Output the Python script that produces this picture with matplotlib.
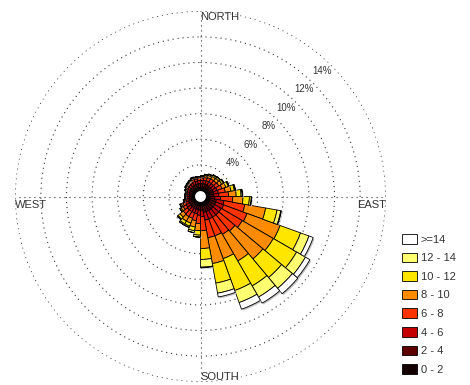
"""Wind rose: frequency of wind direction by speed class."""

import numpy as np
from matplotlib import patheffects, pyplot
from matplotlib.patches import Patch

# direction bin centres (degrees, clockwise from north)
directions = [5, 15, 25, 35, 45, 55, 65, 75, 85, 95, 105, 115,
              125, 135, 145, 155, 165, 175, 185, 195, 205, 215, 225, 235,
              245, 255, 265, 275, 285, 295, 305, 315, 325, 335, 345, 355]

speed_labels = ["0 - 2", "2 - 4", "4 - 6", "6 - 8", "8 - 10", "10 - 12", "12 - 14", ">=14"]
speed_colors = ["#140000", "#5c0000", "#c40000", "#ff3300", "#ff8c00", "#ffe600", "#ffff70", "#ffffff"]

# percentage of observations per direction bin, one list per speed class
s0_2 = [0.25, 0.25, 0.25, 0.25, 0.25, 0.25, 0.25, 0.25, 0.25, 0.25, 0.3, 0.3,
        0.3, 0.3, 0.3, 0.3, 0.3, 0.25, 0.25, 0.25, 0.25, 0.25, 0.25, 0.25,
        0.25, 0.22, 0.2, 0.2, 0.2, 0.22, 0.22, 0.22, 0.22, 0.23, 0.23, 0.24]
s2_4 = [0.3, 0.3, 0.3, 0.3, 0.3, 0.3, 0.32, 0.32, 0.32, 0.4, 0.5, 0.5,
        0.5, 0.5, 0.5, 0.5, 0.5, 0.4, 0.35, 0.3, 0.3, 0.3, 0.3, 0.28,
        0.28, 0.25, 0.22, 0.22, 0.22, 0.24, 0.26, 0.27, 0.28, 0.3, 0.3, 0.3]
s4_6 = [0.25, 0.28, 0.3, 0.3, 0.3, 0.32, 0.35, 0.38, 0.4, 0.45, 0.6, 0.65,
        0.6, 0.6, 0.6, 0.6, 0.6, 0.45, 0.4, 0.35, 0.35, 0.35, 0.35, 0.3,
        0.27, 0.2, 0.17, 0.17, 0.17, 0.19, 0.22, 0.23, 0.24, 0.26, 0.25, 0.25]
s6_8 = [0.17, 0.22, 0.25, 0.28, 0.3, 0.32, 0.4, 0.55, 0.75, 0.95, 1.65, 1.95,
        1.9, 1.65, 1.55, 1.4, 1.4, 1.1, 0.65, 0.55, 0.45, 0.45, 0.4, 0.27,
        0.2, 0.12, 0.1, 0.1, 0.1, 0.11, 0.13, 0.14, 0.15, 0.17, 0.16, 0.16]
s8_10 = [0.1, 0.15, 0.18, 0.22, 0.24, 0.26, 0.32, 0.45, 0.6, 0.8, 1.65, 2.75,
         2.8, 2.85, 2.4, 1.9, 2.05, 1.4, 0.55, 0.5, 0.4, 0.4, 0.33, 0.18,
         0.13, 0.07, 0.04, 0.04, 0.05, 0.06, 0.08, 0.09, 0.1, 0.11, 0.1, 0.1]
s10_12 = [0.06, 0.08, 0.1, 0.12, 0.13, 0.15, 0.2, 0.27, 0.38, 0.5, 0.9, 1.7,
          2.1, 1.9, 2.25, 2.65, 1.55, 0.85, 0.35, 0.3, 0.25, 0.25, 0.2, 0.1,
          0.1, 0.04, 0.02, 0.02, 0.01, 0.03, 0.04, 0.05, 0.06, 0.06, 0.05, 0.05]
s12_14 = [0.02, 0.02, 0.02, 0.03, 0.03, 0.05, 0.06, 0.08, 0.1, 0.15, 0.3, 0.7,
          0.8, 1.1, 1.0, 1.0, 0.8, 0.6, 0.15, 0.15, 0.1, 0.1, 0.07, 0.02,
          0.02, 0.0, 0.0, 0.0, 0.0, 0.0, 0.0, 0.0, 0.0, 0.02, 0.01, 0.0]
s14 = [0.0, 0.0, 0.0, 0.0, 0.0, 0.0, 0.0, 0.0, 0.0, 0.0, 0.05, 0.35,
       0.4, 0.55, 0.55, 0.55, 0.3, 0.05, 0.0, 0.0, 0.0, 0.0, 0.0, 0.0,
       0.0, 0.0, 0.0, 0.0, 0.0, 0.0, 0.0, 0.0, 0.0, 0.0, 0.0, 0.0]

ring_values = [2, 4, 6, 8, 10, 12, 14]
ring_labels = ["4%", "6%", "8%", "10%", "12%", "14%"]

TEXT = "#333333"
pyplot.rcParams["font.family"] = ["Liberation Sans", "DejaVu Sans"]

fig = pyplot.figure(figsize=(4.7, 3.85), dpi=100)
ax = fig.add_axes([15 / 470, 3 / 385, 371 / 470, 371 / 385], projection="polar")
ax.set_theta_zero_location("N")
ax.set_theta_direction(-1)
ax.set_ylim(0, 14.02)
ax.set_rorigin(-0.468)
ax.spines["polar"].set_visible(False)
ax.set_xticks(np.deg2rad([0, 90, 180, 270]))
ax.set_xticklabels([])
ax.set_yticks(ring_values)
ax.set_yticklabels([])
ax.grid(True, color="0.2", linestyle=(0, (1, 3.5)), linewidth=0.8)
ax.set_axisbelow(True)

theta = np.deg2rad(directions)
width = np.deg2rad(10)
series = [s0_2, s2_4, s4_6, s6_8, s8_10, s10_12, s12_14, s14]
bottom = np.zeros(len(directions))
totals = np.sum(series, axis=0)
for values, color in zip(series, speed_colors):
    values = np.array(values)
    bars = ax.bar(theta, values, width=width, bottom=bottom, color=color,
                  edgecolor="black", linewidth=0.6, zorder=3)
    for bar, b, v, t in zip(bars, bottom, values, totals):
        if v > 0 and abs(b + v - t) < 1e-9:
            bar.set_path_effects([
                patheffects.SimplePatchShadow(offset=(1, -1), shadow_rgbFace="0.75", alpha=1),
                patheffects.Normal(),
            ])
    bottom = bottom + values

for value, label in zip(ring_values[1:], ring_labels):
    ax.text(np.deg2rad(44), value - 0.85, label, ha="center", va="center",
            fontsize=7, color=TEXT, zorder=4)

ax.text(0.5, 0.984, "NORTH", transform=ax.transAxes, ha="left", va="center", fontsize=8, color=TEXT)
ax.text(0.5, 0.0135, "SOUTH", transform=ax.transAxes, ha="left", va="center", fontsize=8, color=TEXT)
ax.text(0.0, 0.477, "WEST", transform=ax.transAxes, ha="left", va="center", fontsize=8, color=TEXT)
ax.text(0.922, 0.477, "EAST", transform=ax.transAxes, ha="left", va="center", fontsize=8, color=TEXT)

handles = [Patch(facecolor=c, edgecolor="black", linewidth=0.6) for c in speed_colors[::-1]]
fig.legend(handles, speed_labels[::-1], loc="upper left",
           bbox_to_anchor=(402 / 470, 1 - 234 / 385), frameon=False,
           fontsize=8, labelcolor=TEXT, handlelength=1.35, handleheight=0.95,
           handletextpad=0.35, labelspacing=0.72, borderpad=0, borderaxespad=0)

fig.savefig("out.png")
